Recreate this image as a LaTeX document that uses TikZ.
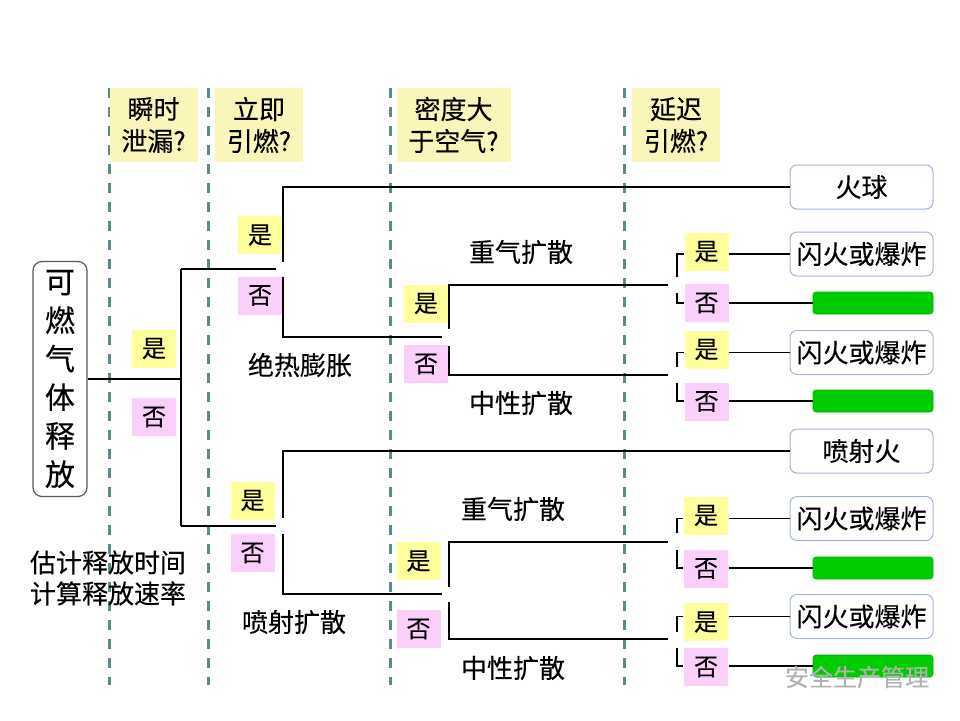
\documentclass[tikz,border=0pt]{standalone}
\usepackage{fontspec}
\setmainfont{Noto Sans CJK SC}[FakeBold=0.3,AutoFakeBold=0.3]
\definecolor{headfill}{RGB}{250,245,185}
\definecolor{yesfill}{RGB}{255,255,155}
\definecolor{nofill}{RGB}{250,208,250}
\definecolor{outline}{RGB}{160,180,215}
\definecolor{bargreen}{RGB}{0,204,0}
\definecolor{sepcol}{RGB}{90,140,140}
\definecolor{srcline}{RGB}{90,90,90}

\begin{document}
\begin{tikzpicture}[x=1pt,y=-1pt,line width=1.2pt,
  headbox/.style={fill=headfill,minimum width=88pt,minimum height=74pt,inner sep=0pt,align=center,font=\fontsize{26}{32}\selectfont\bfseries},
  yesbox/.style={fill=yesfill,minimum width=44pt,minimum height=38pt,inner sep=0pt,font=\fontsize{24}{24}\selectfont\bfseries},
  nobox/.style={yesbox,fill=nofill},
  outbox/.style={draw=outline,line width=1pt,rounded corners=7pt,minimum width=143pt,minimum height=44pt,inner sep=0pt,font=\fontsize{26}{26}\selectfont\bfseries},
  greenbar/.style={fill=bargreen,draw=bargreen!85!black,line width=0.6pt,rounded corners=3pt,minimum width=120pt,minimum height=22pt,inner sep=0pt},
  sepline/.style={sepcol,line width=3pt,dash pattern=on 10pt off 9pt},
  plain/.style={inner sep=0pt,font=\fontsize{26}{31}\selectfont\bfseries}]
\useasboundingbox (0,0) rectangle (960,720);

\foreach \x in {109,208,390,624}
  \draw[sepline] (\x,88) -- (\x,685);

\node[headbox] (h1) at (153.5,125) {瞬时\\泄漏?};
\node[headbox] (h2) at (259,125) {立即\\引燃?};
\node[headbox,minimum width=114pt] (h3) at (453.5,125) {密度大\\于空气?};
\node[headbox] (h4) at (676,125) {延迟\\引燃?};

\node[draw=srcline,rounded corners=9pt,minimum width=54pt,minimum height=235pt,inner sep=0pt,align=center,font=\fontsize{30}{38.5}\selectfont\bfseries] (src) at (60,379) {可\\燃\\气\\体\\释\\放};

\node[yesbox] (y1) at (154,348.5) {是};
\node[nobox] (n1) at (154,417) {否};
\node[yesbox] (y2) at (260,235) {是};
\node[nobox] (n2) at (260,295.5) {否};
\node[yesbox] (y3) at (252.5,500.5) {是};
\node[nobox] (n3) at (252.5,553) {否};
\node[yesbox] (y4) at (426,303.5) {是};
\node[nobox] (n4) at (426,364) {否};
\node[yesbox] (y5) at (418.5,561) {是};
\node[nobox] (n5) at (418.5,629) {否};
\node[yesbox] (y6) at (706.5,251.5) {是};
\node[nobox] (n6) at (706.5,303) {否};
\node[yesbox] (y7) at (706.5,349.5) {是};
\node[nobox] (n7) at (706.5,401.5) {否};
\node[yesbox] (y8) at (706,515.5) {是};
\node[nobox] (n8) at (706,568.5) {否};
\node[yesbox] (y9) at (706,622) {是};
\node[nobox] (n9) at (706,667) {否};

\node[outbox] (fb) at (861.5,187) {火球};
\node[outbox] (f1) at (861.5,254) {闪火或爆炸};
\node[greenbar] (g1) at (873,303) {};
\node[outbox] (f2) at (861.5,352.5) {闪火或爆炸};
\node[greenbar] (g2) at (873,401) {};
\node[outbox] (jf) at (861.5,451) {喷射火};
\node[outbox] (f3) at (861.5,518.5) {闪火或爆炸};
\node[greenbar] (g3) at (873,568) {};
\node[outbox] (f4) at (861.5,616.5) {闪火或爆炸};
\node[greenbar] (g4) at (873,666) {};

\node[plain] (t1) at (300,365) {绝热膨胀};
\node[plain] (t2) at (521,252) {重气扩散};
\node[plain] (t3) at (521,403) {中性扩散};
\node[plain] (t4) at (294,622) {喷射扩散};
\node[plain] (t5) at (513,509) {重气扩散};
\node[plain] (t6) at (513,668) {中性扩散};
\node[plain,align=left] (t7) at (108,578) {估计释放时间\\计算释放速率};

\coordinate (a0) at (181,379);
\coordinate (a1) at (181,269);
\coordinate (a2) at (181,526);
\draw (src.east) -- (a0);
\draw (a1) -- (a2);
\draw (a1) -- ++(95,0);
\draw (a2) -- ++(95,0);

\coordinate (b1) at (283,187);
\coordinate (b2) at (283,337);
\coordinate (b3) at (283,451);
\coordinate (b4) at (283,594);
\draw (fb.west) -- (b1) -- ++(0,75);
\draw (b2) ++(0,-60) -- (b2) -- ++(159,0);
\draw (jf.west) -- (b3) -- ++(0,67);
\draw (b4) ++(0,-60) -- (b4) -- ++(159,0);

\coordinate (c1) at (449,285);
\coordinate (c2) at (449,375);
\coordinate (c3) at (449,542);
\coordinate (c4) at (449,639);
\draw (c1) ++(219,0) -- (c1) -- ++(0,44);
\draw (c2) ++(0,-29) -- (c2) -- ++(219,0);
\draw (c3) ++(219,0) -- (c3) -- ++(0,45);
\draw (c4) ++(0,-37) -- (c4) -- ++(219,0);

\coordinate (d1) at (677,254);
\coordinate (d2) at (677,303);
\coordinate (d3) at (677,352.5);
\coordinate (d4) at (677,401);
\coordinate (d5) at (677,518.5);
\coordinate (d6) at (677,568);
\coordinate (d7) at (677,616.5);
\coordinate (d8) at (677,666);
\draw (y6.west |- d1) -- (d1) -- ++(0,23);
\draw (d2) ++(0,-10) -- (d2) -- (n6.west |- d2);
\draw (y7.west |- d3) -- (d3) -- ++(0,14);
\draw (d4) ++(0,-18) -- (d4) -- (n7.west |- d4);
\draw (y8.west |- d5) -- (d5) -- ++(0,14.5);
\draw (d6) ++(0,-18) -- (d6) -- (n8.west |- d6);
\draw (y9.west |- d7) -- (d7) -- ++(0,15.5);
\draw (d8) ++(0,-18) -- (d8) -- (n9.west |- d8);

\draw (y6.east |- f1.west) -- (f1.west);
\draw (n6.east |- g1.west) -- (g1.west);
\draw (y7.east |- f2.west) -- (f2.west);
\draw (n7.east |- g2.west) -- (g2.west);
\draw (y8.east |- f3.west) -- (f3.west);
\draw (n8.east |- g3.west) -- (g3.west);
\draw (y9.east |- f4.west) -- (f4.west);
\draw (n9.east |- g4.west) -- (g4.west);

\node[font=\fontsize{24}{24}\selectfont,text=black!30] (wm) at (857,677) {安全生产管理};
\end{tikzpicture}
\end{document}
